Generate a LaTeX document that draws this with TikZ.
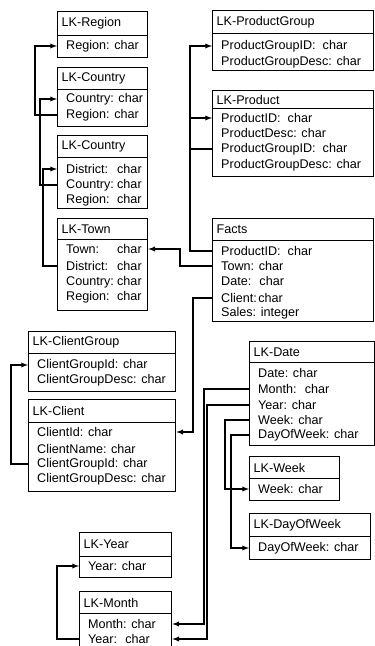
\documentclass[tikz,border=0pt]{standalone}
\usepackage{fontspec}
\setmainfont{Liberation Sans}
\tikzset{
  head/.style={draw, line width=1.3pt, anchor=north west, inner xsep=4pt, inner ysep=0pt, align=left},
  body/.style={draw, line width=1.3pt, anchor=north west, inner sep=0pt},
  row/.style={anchor=west, inner sep=0pt},
  link/.style={line width=1.3pt, ->},
}
\newcommand{\tcol}[1]{\makebox[51pt][l]{#1}}
\begin{document}
\begin{tikzpicture}[>=latex, x=1pt, y=-1pt, font=\fontsize{12.6}{15}\selectfont]
\useasboundingbox (0,0) rectangle (375,646);
\clip (0,0) rectangle (375,646);
\node[head, text width=82pt, minimum height=24pt] (rgnH) at (57,11) {LK-Region};
\node[body, minimum width=90pt, minimum height=22pt] (rgn) at (57,35) {};
\node[row] (rgnRegion) at (66,46) {Region: char};
\node[head, text width=82pt, minimum height=22pt] (ctyH) at (57,67) {LK-Country};
\node[body, minimum width=90pt, minimum height=37pt] (cty) at (57,89) {};
\node[row] (ctyCountry) at (66,99) {Country: char};
\node[row] (ctyRegion) at (66,115) {Region: char};
\node[head, text width=82pt, minimum height=22pt] (dstH) at (57,135) {LK-Country};
\node[body, minimum width=90pt, minimum height=51pt] (dst) at (57,157) {};
\node[row] (dstDistrict) at (66,169) {\tcol{District:}char};
\node[row] (dstCountry) at (66,185) {\tcol{Country:}char};
\node[row] (dstRegion) at (66,200) {\tcol{Region:}char};
\node[head, text width=82pt, minimum height=21pt] (twnH) at (57,218) {LK-Town};
\node[body, minimum width=90pt, minimum height=71pt] (twn) at (57,239) {};
\node[row] (twnTown) at (66,249) {\tcol{Town:}char};
\node[row] (twnDistrict) at (66,266) {\tcol{District:}char};
\node[row] (twnCountry) at (66,282) {\tcol{Country:}char};
\node[row] (twnRegion) at (66,297) {\tcol{Region:}char};
\node[head, text width=153pt, minimum height=23pt] (pgrH) at (212,10) {LK-ProductGroup};
\node[body, minimum width=161pt, minimum height=37pt] (pgr) at (212,33) {};
\node[row] (pgrGroup) at (221,46) {ProductGroupID:~ char};
\node[row] (pgrDesc) at (221,62) {ProductGroupDesc: char};
\node[head, text width=153pt, minimum height=18pt] (prdH) at (212,90) {LK-Product};
\node[body, minimum width=161pt, minimum height=68pt] (prd) at (212,108) {};
\node[row] (prdProduct) at (221,118) {ProductID:~ char};
\node[row] (prdDesc) at (221,133) {ProductDesc: char};
\node[row] (prdGroup) at (221,149) {ProductGroupID:~ char};
\node[row] (prdGroupDesc) at (221,165) {ProductGroupDesc: char};
\node[head, text width=153pt, minimum height=22pt] (fctH) at (212,218) {Facts};
\node[body, minimum width=161pt, minimum height=81pt] (fct) at (212,240) {};
\node[row] (fctProduct) at (221,251) {ProductID:~ char};
\node[row] (fctTown) at (221,266) {Town: char};
\node[row] (fctDate) at (221,281) {Date:~ char};
\node[row] (fctClient) at (221,298) {Client:\hspace{1.5pt}char};
\node[row] (fctSales) at (221,313) {Sales: integer};
\node[head, text width=139pt, minimum height=22pt] (cgrH) at (28,331) {LK-ClientGroup};
\node[body, minimum width=147pt, minimum height=38pt] (cgr) at (28,353) {};
\node[row] (cgrGroup) at (37,365) {ClientGroupId: char};
\node[row] (cgrDesc) at (37,380) {ClientGroupDesc: char};
\node[head, text width=139pt, minimum height=23pt] (cliH) at (28,399) {LK-Client};
\node[body, minimum width=147pt, minimum height=69pt] (cli) at (28,422) {};
\node[row] (cliId) at (37,432) {ClientId: char};
\node[row] (cliName) at (37,449) {ClientName: char};
\node[row] (cliGroup) at (37,464) {ClientGroupId: char};
\node[row] (cliDesc) at (37,479) {ClientGroupDesc: char};
\node[head, text width=117pt, minimum height=21pt] (datH) at (249,341) {LK-Date};
\node[body, minimum width=125pt, minimum height=83pt] (dat) at (249,362) {};
\node[row] (datDate) at (258,373) {Date: char};
\node[row] (datMonth) at (258,389) {Month:~ char};
\node[row] (datYear) at (258,405) {Year: char};
\node[row] (datWeek) at (258,420) {Week: char};
\node[row] (datDay) at (258,435) {DayOfWeek: char};
\node[head, text width=82pt, minimum height=22pt] (wekH) at (249,456) {LK-Week};
\node[body, minimum width=90pt, minimum height=22pt] (wek) at (249,478) {};
\node[row] (wekWeek) at (258,489) {Week: char};
\node[head, text width=113pt, minimum height=23pt] (dowH) at (249,513) {LK-DayOfWeek};
\node[body, minimum width=121pt, minimum height=23pt] (dow) at (249,536) {};
\node[row] (dowDay) at (258,548) {DayOfWeek: char};
\node[head, text width=84pt, minimum height=24pt] (yerH) at (79,532) {LK-Year};
\node[body, minimum width=92pt, minimum height=21pt] (yer) at (79,556) {};
\node[row] (yerYear) at (88,566) {Year: char};
\node[head, text width=84pt, minimum height=22pt] (monH) at (79,591) {LK-Month};
\node[body, minimum width=92pt, minimum height=50pt] (mon) at (79,613) {};
\node[row] (monMonth) at (88,624) {Month: char};
\node[row] (monYear) at (88,639) {Year:~ char};
\draw[link] (cty.west |- ctyRegion) -- ++(-22,0) |- (rgn.west |- rgnRegion);
\draw[link] (dst.west |- dstCountry) -- ++(-17,0) |- (cty.west |- ctyCountry);
\draw[link] (twn.west |- twnDistrict) -- ++(-14,0) |- (dst.west |- dstDistrict);
\draw[link] (fct.west |- fctTown) -- ++(-32,0) |- (twn.east |- twnTown);
\draw[link] (fct.west |- fctProduct) -- ++(-22,0) |- (prd.west |- prdProduct);
\draw[link] (prd.west |- prdGroup) -- ++(-22,0) |- (pgr.west |- pgrGroup);
\draw[link] (fct.west |- fctClient) -- ++(-19,0) |- (cli.east |- cliId);
\draw[link] (cli.west |- cliGroup) -- ++(-17,0) |- (cgr.west |- cgrGroup);
\draw[link] (dat.west |- datMonth) -- ++(-45,0) |- (mon.east |- monMonth);
\draw[link] (dat.west |- datYear) -- ++(-42,0) |- (mon.east |- monYear);
\draw[link] (dat.west |- datWeek) -- ++(-24,0) |- (wek.west |- wekWeek);
\draw[link] (dat.west |- datDay) -- ++(-18,0) |- (dow.west |- dowDay);
\draw[link] (mon.west |- monYear) -- ++(-22,0) |- (yer.west |- yerYear);
\end{tikzpicture}
\end{document}
